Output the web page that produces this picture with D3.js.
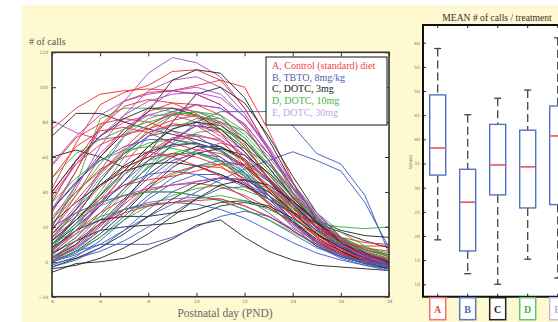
<!DOCTYPE html>
<html>
<head>
<meta charset="utf-8">
<script src="https://cdn.jsdelivr.net/npm/d3@7"></script>
<style>
  html, body { margin: 0; padding: 0; background: #fff; }
  svg { display: block; }
  .tiny text { font-family: "DejaVu Sans", sans-serif; font-size: 4.5px; fill: #777; }
  .tiny line { stroke: #333; }
</style>
</head>
<body>
<div id="chart"></div>
<script>
// days on the x axis
const days = [4, 5, 6, 7, 8, 9, 10, 11, 12, 13, 14, 15, 16, 17, 18];

// A, Control (standard) diet
const seriesA = [
  [76, 88, 96, 98, 99, 98, 96, 90, 78, 58, 36, 19, 8, 2, -1],
  [42, 68, 90, 97, 101, 109, 110, 104, 88, 64, 40, 22, 10, 3, 0],
  [28, 52, 78, 92, 97, 98, 101, 104, 100, 75, 46, 24, 10, 4, 1],
  [18, 38, 60, 76, 86, 91, 90, 84, 68, 47, 28, 14, 6, 1, -2],
  [10, 26, 46, 63, 74, 79, 78, 70, 55, 38, 23, 12, 5, 1, -1],
  [55, 71, 79, 82, 80, 75, 68, 58, 46, 34, 23, 15, 10, 9, 9],
  [5, 16, 33, 50, 63, 71, 73, 69, 57, 41, 26, 14, 6, 1, -3],
  [14, 28, 43, 54, 60, 62, 60, 55, 45, 33, 21, 11, 5, 0, -3],
  [24, 40, 53, 60, 63, 60, 55, 49, 43, 36, 27, 18, 12, 8, 6],
  [0, 9, 21, 33, 44, 51, 55, 54, 48, 38, 26, 14, 6, 1, -2],
  [7, 18, 28, 36, 41, 44, 45, 43, 38, 31, 22, 12, 5, 0, -2],
  [34, 58, 77, 89, 93, 91, 85, 74, 58, 41, 26, 15, 7, 2, -1],
  [12, 24, 36, 44, 47, 49, 52, 56, 56, 48, 35, 20, 10, 4, 1],
  [38, 56, 67, 73, 76, 81, 84, 79, 66, 48, 31, 17, 9, 4, 2],
  [2, 12, 22, 28, 32, 34, 35, 36, 32, 26, 18, 10, 4, 0, -2],
  [18, 35, 51, 65, 78, 85, 83, 74, 58, 42, 29, 20, 14, 11, 10],
  [48, 66, 75, 77, 74, 68, 64, 62, 55, 44, 31, 20, 12, 7, 4]
];

// B, TBTO 8mg/kg
const seriesB = [
  [2, 7, 18, 34, 52, 68, 80, 86, 86, 86, 78, 62, 56, 38, 5],
  [0, 4, 10, 18, 26, 33, 40, 47, 53, 58, 63, 58, 52, 34, 8],
  [0, 6, 10, 10, 10, 14, 20, 26, 29, 26, 18, 9, 3, -1, -4],
  [-2, 3, 12, 24, 36, 45, 50, 50, 44, 34, 23, 12, 5, 0, -3],
  [4, 14, 28, 42, 54, 61, 63, 58, 47, 33, 20, 9, 2, -2, -5],
  [1, 8, 20, 35, 48, 58, 62, 60, 51, 38, 24, 12, 4, -1, -4],
  [10, 22, 34, 44, 50, 52, 50, 45, 37, 28, 18, 9, 3, -1, -3],
  [-1, 2, 6, 12, 20, 28, 36, 42, 43, 38, 28, 16, 7, 1, -2],
  [6, 18, 32, 46, 58, 66, 68, 64, 53, 38, 23, 11, 4, -1, -4],
  [20, 28, 34, 38, 40, 40, 38, 35, 30, 24, 16, 8, 3, -1, -3],
  [0, 5, 14, 26, 38, 48, 55, 58, 55, 46, 33, 19, 9, 2, -2],
  [3, 10, 22, 30, 33, 34, 33, 30, 25, 18, 11, 5, 1, -2, -4],
  [8, 26, 46, 62, 72, 75, 72, 64, 51, 36, 22, 10, 3, -1, -3],
  [-3, 1, 8, 18, 30, 40, 46, 48, 45, 38, 29, 18, 9, 2, -2],
  [30, 46, 58, 66, 70, 70, 67, 60, 49, 36, 23, 11, 4, 0, -2]
];

// C, DOTC 3mg
const seriesC = [
  [-6, -1, 0, 2, 7, 13, 21, 24, 14, 6, 1, -2, -3, -4, -5],
  [72, 85, 85, 80, 76, 73, 70, 66, 58, 46, 34, 24, 18, 15, 14],
  [60, 64, 60, 54, 60, 70, 78, 76, 65, 50, 35, 22, 13, 7, 3],
  [30, 45, 60, 74, 86, 104, 110, 108, 94, 70, 45, 24, 11, 3, -1],
  [10, 20, 32, 46, 62, 80, 96, 100, 91, 72, 49, 28, 14, 5, 0],
  [2, 10, 22, 36, 50, 60, 66, 66, 59, 47, 33, 20, 10, 3, -1],
  [5, 12, 18, 20, 21, 22, 26, 32, 34, 31, 23, 13, 6, 1, -2],
  [16, 30, 44, 55, 63, 67, 68, 64, 55, 42, 28, 16, 8, 2, -1],
  [0, 6, 16, 28, 42, 54, 62, 65, 61, 51, 37, 22, 11, 3, -2],
  [22, 34, 44, 52, 56, 57, 55, 50, 44, 36, 28, 22, 17, 12, 8],
  [-3, 2, 8, 16, 26, 36, 44, 48, 47, 40, 29, 16, 6, 0, -4],
  [40, 58, 72, 82, 88, 88, 84, 76, 63, 48, 33, 20, 11, 5, 1],
  [8, 18, 24, 26, 26, 28, 30, 34, 35, 32, 25, 16, 8, 2, -2],
  [12, 24, 38, 52, 66, 76, 80, 78, 69, 54, 37, 22, 11, 4, 0],
  [-4, -2, 2, 8, 16, 26, 36, 44, 47, 44, 35, 23, 12, 4, -1]
];

// D, DOTC 10mg
const seriesD = [
  [20, 44, 82, 88, 88, 86, 84, 80, 71, 56, 39, 24, 14, 8, 5],
  [8, 22, 40, 60, 76, 84, 86, 82, 71, 54, 37, 22, 11, 4, 0],
  [0, 10, 24, 40, 55, 67, 74, 76, 69, 56, 40, 25, 13, 5, 0],
  [14, 30, 48, 62, 72, 78, 80, 76, 65, 50, 34, 20, 10, 3, -1],
  [4, 14, 28, 42, 54, 62, 66, 65, 58, 46, 32, 19, 9, 2, -2],
  [26, 40, 52, 62, 68, 70, 68, 63, 54, 43, 31, 20, 12, 6, 2],
  [10, 24, 38, 50, 58, 62, 62, 58, 50, 40, 30, 22, 20, 19, 20],
  [2, 8, 18, 30, 42, 50, 55, 56, 51, 42, 31, 20, 10, 3, -1],
  [34, 48, 58, 64, 66, 65, 62, 57, 49, 40, 31, 22, 14, 8, 4],
  [6, 20, 36, 52, 66, 76, 82, 82, 73, 58, 40, 24, 12, 4, -1],
  [0, 6, 14, 24, 32, 38, 42, 44, 41, 36, 29, 20, 11, 4, 0],
  [16, 26, 34, 38, 40, 40, 38, 35, 30, 24, 17, 10, 4, 0, -3],
  [48, 62, 70, 76, 80, 84, 86, 84, 75, 60, 43, 28, 17, 9, 3],
  [10, 18, 26, 30, 32, 34, 36, 38, 35, 30, 24, 17, 11, 6, 2],
  [22, 38, 56, 72, 82, 86, 84, 78, 67, 52, 37, 24, 14, 7, 3]
];

// E, DOTC 30mg
const seriesE = [
  [30, 52, 76, 92, 108, 117, 114, 106, 88, 65, 42, 23, 10, 2, -3],
  [81, 74, 70, 72, 78, 86, 90, 88, 79, 62, 43, 26, 13, 5, 0],
  [20, 42, 66, 84, 98, 104, 106, 100, 85, 64, 42, 24, 11, 3, -2],
  [12, 30, 52, 72, 88, 98, 100, 96, 83, 64, 43, 25, 12, 3, -2],
  [6, 20, 38, 56, 72, 84, 90, 88, 79, 62, 43, 26, 12, 3, -2],
  [40, 58, 72, 80, 84, 84, 80, 72, 61, 46, 31, 18, 8, 2, -2],
  [2, 12, 26, 42, 58, 70, 78, 80, 75, 62, 45, 28, 14, 5, -1],
  [16, 32, 50, 64, 74, 78, 78, 74, 63, 48, 33, 19, 9, 2, -3],
  [8, 16, 24, 30, 34, 36, 37, 36, 32, 26, 19, 12, 6, 2, 0],
  [24, 44, 62, 76, 84, 88, 86, 80, 69, 54, 38, 23, 11, 4, -1],
  [0, 8, 18, 30, 44, 56, 64, 68, 65, 56, 42, 27, 14, 5, -1],
  [56, 72, 84, 92, 96, 98, 96, 90, 77, 58, 39, 22, 10, 3, -2],
  [4, 18, 34, 50, 62, 70, 72, 70, 61, 48, 34, 21, 10, 3, -2],
  [14, 24, 32, 38, 42, 44, 46, 48, 47, 42, 33, 23, 13, 6, 1],
  [36, 56, 72, 84, 92, 96, 97, 94, 83, 66, 45, 26, 12, 4, -1]
];

const legendLabels = ['A, Control (standard) diet', 'B, TBTO, 8mg/kg', 'C, DOTC, 3mg', 'D, DOTC, 10mg', 'E,  DOTC, 30mg'];
const xTicks = [4, 6, 8, 10, 12, 14, 16, 18];
const yTicks = [-20, 0, 20, 40, 60, 80, 100, 120];

// boxplot of mean # of calls per treatment
const boxLabels = ['A', 'B', 'C', 'D', 'E'];
const boxLow = [19.2, 12.2, 10.0, 15.2, 11.3];
const boxQ1 = [32.6, 16.9, 28.5, 25.8, 26.5];
const boxMedian = [38.2, 27.0, 34.7, 34.3, 40.7];
const boxQ3 = [49.2, 33.8, 43.1, 41.9, 46.9];
const boxHigh = [58.8, 45.1, 48.5, 50.2, 61.0];
const boxTicks = [10, 15, 20, 25, 30, 35, 40, 45, 50, 55, 60];

const lineColors = ['#ee2a2a', '#3a58bc', '#222222', '#38ad38', '#a948bb'];
const legendColors = ['#ee4444', '#4a64b8', '#222222', '#44b844', '#c4a6e0'];
const letterBorder = ['#f07070', '#5a76c4', '#222222', '#66c266', '#c8b8e2'];

const W = 558, H = 322;
const svg = d3.select('#chart').append('svg')
  .attr('width', W)
  .attr('height', H);

svg.append('rect').attr('width', W).attr('height', H).attr('fill', '#fff');
// cream background panel
svg.append('rect')
  .attr('x', 22).attr('y', 5)
  .attr('width', W - 22).attr('height', H - 5)
  .attr('fill', '#fef9d0');

// ---------- left: individual curves ----------
const plot = { left: 52, right: 389, top: 52.3, bottom: 296.7 };
const x = d3.scaleLinear().domain([4, 18]).range([plot.left, plot.right]);
const y = d3.scaleLinear().domain([-20, 120]).range([plot.bottom, plot.top]);

svg.append('rect')
  .attr('x', plot.left).attr('y', plot.top)
  .attr('width', plot.right - plot.left).attr('height', plot.bottom - plot.top)
  .attr('fill', '#fff');

svg.append('clipPath').attr('id', 'clipL')
  .append('rect')
  .attr('x', plot.left).attr('y', plot.top)
  .attr('width', plot.right - plot.left).attr('height', plot.bottom - plot.top);

const line = d3.line()
  .x((d, i) => x(days[i]))
  .y(d => y(d));

// interleave the groups so colours mix like the original
const groups = [seriesA, seriesB, seriesC, seriesD, seriesE];
const curves = [];
const maxLen = d3.max(groups, g => g.length);
for (let i = 0; i < maxLen; i++) {
  groups.forEach((g, gi) => {
    if (g[i]) curves.push({ values: g[i], group: gi });
  });
}

svg.append('g')
  .attr('clip-path', 'url(#clipL)')
  .selectAll('path')
  .data(curves)
  .enter()
  .append('path')
  .attr('d', d => line(d.values))
  .attr('fill', 'none')
  .attr('stroke', d => lineColors[d.group])
  .attr('stroke-width', 1)
  .attr('stroke-opacity', 0.9)
  .attr('stroke-linejoin', 'round');

// axes, ticks pointing inward
const axB = svg.append('g').attr('class', 'tiny')
  .attr('transform', `translate(0,${plot.bottom})`)
  .call(d3.axisBottom(x).tickValues(xTicks).tickSizeInner(-4).tickSizeOuter(0).tickPadding(3));
const axT = svg.append('g').attr('class', 'tiny')
  .attr('transform', `translate(0,${plot.top})`)
  .call(d3.axisTop(x).tickValues(xTicks).tickSizeInner(-4).tickSizeOuter(0).tickFormat(''));
const axL = svg.append('g').attr('class', 'tiny')
  .attr('transform', `translate(${plot.left},0)`)
  .call(d3.axisLeft(y).tickValues(yTicks).tickSizeInner(-4).tickSizeOuter(0).tickPadding(4));
const axR = svg.append('g').attr('class', 'tiny')
  .attr('transform', `translate(${plot.right},0)`)
  .call(d3.axisRight(y).tickValues(yTicks).tickSizeInner(-4).tickSizeOuter(0).tickFormat(''));
[axB, axT, axL, axR].forEach(a => a.select('.domain').remove());

svg.append('rect')
  .attr('x', plot.left).attr('y', plot.top)
  .attr('width', plot.right - plot.left).attr('height', plot.bottom - plot.top)
  .attr('fill', 'none')
  .attr('stroke', '#333')
  .attr('stroke-width', 1.6);

svg.append('text')
  .attr('x', 29).attr('y', 45)
  .attr('font-family', '"Liberation Serif", serif')
  .attr('font-size', 10)
  .attr('fill', '#555')
  .text('# of calls');

svg.append('text')
  .attr('x', 225).attr('y', 316.5)
  .attr('text-anchor', 'middle')
  .attr('font-family', '"Liberation Serif", serif')
  .attr('font-size', 11.5)
  .attr('fill', '#666')
  .text('Postnatal day (PND)');

// legend
const legend = svg.append('g').attr('transform', 'translate(266,57)');
legend.append('rect')
  .attr('width', 121).attr('height', 68)
  .attr('fill', '#fff')
  .attr('stroke', '#111')
  .attr('stroke-width', 1);
legend.selectAll('text')
  .data(legendLabels)
  .enter()
  .append('text')
  .attr('x', 6)
  .attr('y', (d, i) => 12 + i * 11.7)
  .attr('font-family', '"Liberation Serif", serif')
  .attr('font-size', 10)
  .attr('fill', (d, i) => legendColors[i])
  .text(d => d);

// ---------- right: boxplot ----------
const bp = { left: 423, top: 25, bottom: 296.7 };
const xb = d3.scaleLinear().domain([0, 4]).range([437.7, 557.7]);
const yb = d3.scaleLinear().domain([10, 60]).range([284.3, 42.7]);
const boxW = 16;

svg.append('rect')
  .attr('x', bp.left).attr('y', bp.top)
  .attr('width', W - bp.left + 10).attr('height', bp.bottom - bp.top)
  .attr('fill', '#fff');

svg.append('text')
  .attr('x', 497).attr('y', 20.5)
  .attr('text-anchor', 'middle')
  .attr('font-family', '"Liberation Serif", serif')
  .attr('font-size', 9.6)
  .attr('fill', '#333')
  .text('MEAN # of calls / treatment');

const byl = svg.append('g').attr('class', 'tiny')
  .attr('transform', `translate(${bp.left},0)`)
  .call(d3.axisLeft(yb).tickValues(boxTicks).tickSizeInner(-3).tickSizeOuter(0).tickPadding(3));
byl.select('.domain').remove();

svg.append('text')
  .attr('transform', `translate(412,162) rotate(-90)`)
  .attr('text-anchor', 'middle')
  .attr('font-family', '"DejaVu Sans", sans-serif')
  .attr('font-size', 4.5)
  .attr('fill', '#777')
  .text('Values');

const idx = d3.range(boxLabels.length);
const boxes = svg.append('g').selectAll('g')
  .data(idx)
  .enter()
  .append('g');

// whiskers
boxes.append('line')
  .attr('x1', i => xb(i)).attr('x2', i => xb(i))
  .attr('y1', i => yb(boxHigh[i])).attr('y2', i => yb(boxQ3[i]))
  .attr('stroke', '#444').attr('stroke-width', 1.3).attr('stroke-dasharray', '8,4');
boxes.append('line')
  .attr('x1', i => xb(i)).attr('x2', i => xb(i))
  .attr('y1', i => yb(boxQ1[i])).attr('y2', i => yb(boxLow[i]))
  .attr('stroke', '#444').attr('stroke-width', 1.3).attr('stroke-dasharray', '8,4');
boxes.append('line')
  .attr('x1', i => xb(i) - 3.5).attr('x2', i => xb(i) + 3.5)
  .attr('y1', i => yb(boxHigh[i])).attr('y2', i => yb(boxHigh[i]))
  .attr('stroke', '#444').attr('stroke-width', 1.3);
boxes.append('line')
  .attr('x1', i => xb(i) - 3.5).attr('x2', i => xb(i) + 3.5)
  .attr('y1', i => yb(boxLow[i])).attr('y2', i => yb(boxLow[i]))
  .attr('stroke', '#444').attr('stroke-width', 1.3);
boxes.append('rect')
  .attr('x', i => xb(i) - boxW / 2)
  .attr('y', i => yb(boxQ3[i]))
  .attr('width', boxW)
  .attr('height', i => yb(boxQ1[i]) - yb(boxQ3[i]))
  .attr('fill', '#fff')
  .attr('stroke', '#5572c4')
  .attr('stroke-width', 1.4);
boxes.append('line')
  .attr('x1', i => xb(i) - boxW / 2 + 0.7).attr('x2', i => xb(i) + boxW / 2 - 0.7)
  .attr('y1', i => yb(boxMedian[i])).attr('y2', i => yb(boxMedian[i]))
  .attr('stroke', '#ee2a2a').attr('stroke-width', 1.3);

// top and bottom ticks at box positions
boxes.append('line')
  .attr('x1', i => xb(i)).attr('x2', i => xb(i))
  .attr('y1', bp.top).attr('y2', bp.top + 3)
  .attr('stroke', '#222').attr('stroke-width', 1);
boxes.append('line')
  .attr('x1', i => xb(i)).attr('x2', i => xb(i))
  .attr('y1', bp.bottom).attr('y2', bp.bottom - 3)
  .attr('stroke', '#222').attr('stroke-width', 1);

// frame of the boxplot (right side is cut off)
svg.append('path')
  .attr('d', `M${W + 5},${bp.top}H${bp.left}V${bp.bottom}H${W + 5}`)
  .attr('fill', 'none')
  .attr('stroke', '#111')
  .attr('stroke-width', 2);

// treatment letters under the boxes
const tags = svg.append('g').selectAll('g')
  .data(idx)
  .enter()
  .append('g');
tags.append('rect')
  .attr('x', i => xb(i) - boxW / 2)
  .attr('y', bp.bottom + 1)
  .attr('width', boxW).attr('height', 22)
  .attr('fill', '#fff')
  .attr('stroke', i => letterBorder[i])
  .attr('stroke-width', 1.5);
tags.append('text')
  .attr('x', i => xb(i))
  .attr('y', bp.bottom + 16)
  .attr('text-anchor', 'middle')
  .attr('font-family', '"Liberation Serif", serif')
  .attr('font-weight', 'bold')
  .attr('font-size', 10)
  .attr('fill', i => legendColors[i])
  .text(i => boxLabels[i]);
</script>
</body>
</html>
